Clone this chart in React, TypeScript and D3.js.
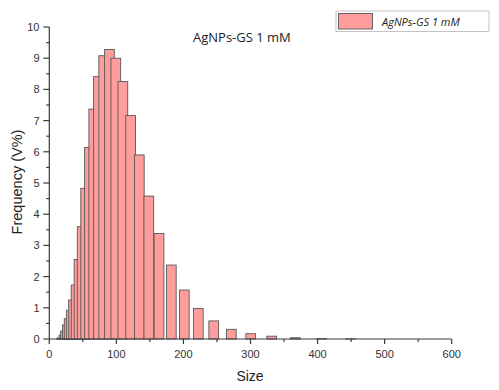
import React from "react";
import * as d3 from "d3";

const sizes = [17.9, 19.8, 21.9, 24.2, 26.8, 29.6, 32.7, 36.2, 40.0, 44.3, 49.0, 54.2, 59.9, 66.3, 73.3, 81.1, 89.7, 99.2, 109.7, 121.3, 134.2, 148.4, 163.6, 181.9, 201.3, 222.2, 245.2, 271.4, 300.4, 331.7, 366.8, 406.1, 449.1];
const freq = [0.01, 0.04, 0.12, 0.25, 0.45, 0.65, 0.92, 1.25, 1.73, 2.55, 3.6, 4.83, 6.14, 7.37, 8.41, 9.08, 9.28, 9.0, 8.25, 7.16, 5.9, 4.58, 3.38, 2.37, 1.57, 0.98, 0.58, 0.31, 0.17, 0.09, 0.04, 0.012, 0.006];
const xTicks = [0, 100, 200, 300, 400, 500, 600];
const xMinor = [50, 150, 250, 350, 450, 550];
const yTicks = [0, 1, 2, 3, 4, 5, 6, 7, 8, 9, 10];
const yMinor = [0.5, 1.5, 2.5, 3.5, 4.5, 5.5, 6.5, 7.5, 8.5, 9.5];
const seriesName = "AgNPs-GS 1 mM";
const xLabel = "Size";
const yLabel = "Frequency (V%)";
const barWidth = 14.5;

export default function App() {
  const W = 499, H = 390;
  const x = d3.scaleLinear().domain([0, 600]).range([49.3, 451.7]);
  const y = d3.scaleLinear().domain([0, 10]).range([339, 27]);
  const bw = x(barWidth) - x(0);
  const axisColor = "#3a3a3a";
  const labelFont = "'Liberation Sans', Arial, sans-serif";
  return (
    <svg width={W} height={H} style={{ position: "fixed", left: 0, top: 0, background: "#fff" }}>
      {sizes.map((s, i) => (
        <rect key={i} x={x(s) - bw / 2} y={y(freq[i])} width={bw} height={Math.max(0, y(0) - y(freq[i]))}
          fill="#ff9c9c" stroke="#585858" strokeWidth={0.9} />
      ))}
      <line x1={x(0)} x2={x(600)} y1={y(0)} y2={y(0)} stroke={axisColor} strokeWidth={1.2} />
      <line x1={x(0)} x2={x(0)} y1={y(0)} y2={y(10)} stroke={axisColor} strokeWidth={1.2} />
      {xTicks.map((t) => (
        <g key={"xt" + t}>
          <line x1={x(t)} x2={x(t)} y1={y(0)} y2={y(0) + 5} stroke={axisColor} strokeWidth={1.2} />
          <text x={x(t)} y={358} textAnchor="middle" fontFamily={labelFont} fontSize={11} fill="#333">{t}</text>
        </g>
      ))}
      {xMinor.map((t) => (
        <line key={"xm" + t} x1={x(t)} x2={x(t)} y1={y(0)} y2={y(0) + 3} stroke={axisColor} strokeWidth={1.2} />
      ))}
      {yTicks.map((t) => (
        <g key={"yt" + t}>
          <line x1={x(0) - 6} x2={x(0)} y1={y(t)} y2={y(t)} stroke={axisColor} strokeWidth={1.2} />
          <text x={39.5} y={y(t) + 4} textAnchor="end" fontFamily={labelFont} fontSize={11} fill="#333">{t}</text>
        </g>
      ))}
      {yMinor.map((t) => (
        <line key={"ym" + t} x1={x(0) - 3} x2={x(0)} y1={y(t)} y2={y(t)} stroke={axisColor} strokeWidth={1.2} />
      ))}
      <text x={250} y={381} textAnchor="middle" fontFamily={labelFont} fontSize={14} fill="#222">{xLabel}</text>
      <text transform={`translate(22,182) rotate(-90)`} textAnchor="middle" fontFamily={labelFont} fontSize={14.5} fill="#222">{yLabel}</text>
      <text x={193} y={42} fontFamily="'Open Sans', sans-serif" fontSize={13} fill="#222">{seriesName}</text>
      <rect x={336} y={11} width={153} height={20.5} fill="#fff" stroke="#c4c4c4" strokeWidth={1} />
      <rect x={338.5} y={13.5} width={34} height={15.5} fill="#ff9c9c" stroke="#585858" strokeWidth={0.9} />
      <text x={382} y={25.5} fontFamily="'Open Sans', sans-serif" fontStyle="italic" fontSize={11} fill="#222">{seriesName}</text>
    </svg>
  );
}
